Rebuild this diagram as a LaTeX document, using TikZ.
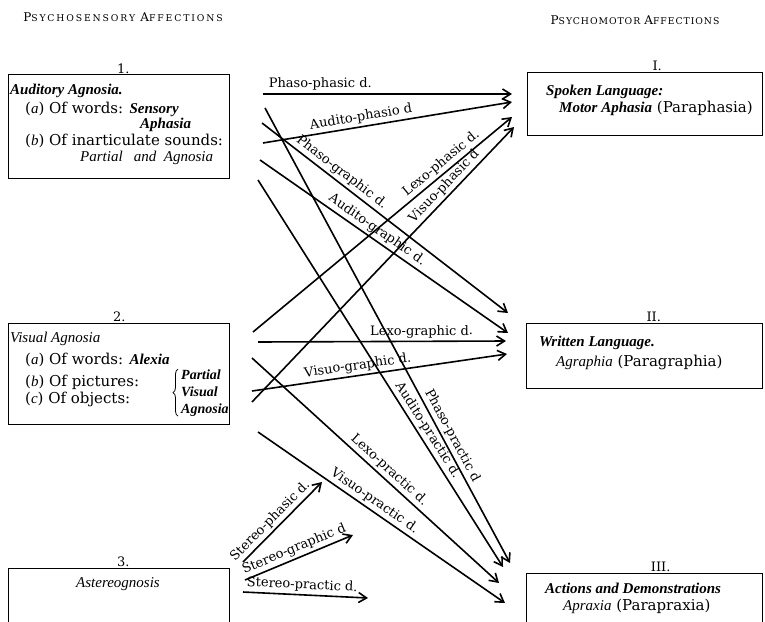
\documentclass[tikz,border=0pt]{standalone}
\usepackage{fontspec}
\setmainfont{DejaVu Serif}
\newfontfamily\timesfam{Liberation Serif}
\newcommand{\ital}[1]{{\timesfam\itshape #1}}
\newcommand{\bital}[1]{{\timesfam\bfseries\itshape #1}}
\newcommand{\hdcap}[2]{{\fontsize{12}{14}\selectfont #1}{\fontsize{9.3}{11}\selectfont #2}}
\usetikzlibrary{positioning,arrows.meta,decorations.pathreplacing}

\begin{document}
\begin{tikzpicture}[x=1pt,y=-1pt,
	box/.style = {draw, line width=1.4pt, anchor=north west, inner sep=0pt},
	txt/.style = {anchor=base west, inner sep=0pt, font=\fontsize{15}{17}\selectfont},
	num/.style = {inner sep=1pt, font=\fontsize{13}{15}\selectfont},
	lbl/.style = {inner sep=2.5pt, font=\fontsize{13}{15}\selectfont},
	conn/.style = {line width=1.6pt, -{Straight Barb[length=8pt,width=10pt]}},
	head/.style = {anchor=base, inner sep=0pt}]
			\useasboundingbox (0,0) rectangle (765,621);
			\clip (0,0) rectangle (765,621);

			\node[head] (sens) at (123,21) {\addfontfeature{LetterSpace=20}\hdcap{P}{SYCHOSENSORY} \hdcap{A}{FFECTIONS}};
			\node[head] (mot) at (635,24) {\addfontfeature{LetterSpace=10}\hdcap{P}{SYCHOMOTOR} \hdcap{A}{FFECTIONS}};

			\node[box, minimum width=221pt, minimum height=104pt] (aud) at (8,74) {};
			\node[box, minimum width=221pt, minimum height=101pt] (vis) at (8,323) {};
			\node[box, minimum width=221pt, minimum height=80pt] (ast) at (8,568) {};
			\node[box, minimum width=235pt, minimum height=63pt] (spk) at (527,72) {};
			\node[box, minimum width=236pt, minimum height=65pt] (wrt) at (526,323) {};
			\node[box, minimum width=236pt, minimum height=80pt] (act) at (526,573) {};

			\node[num, above=-1pt of aud, xshift=4pt] (n1) {1.};
			\node[num, above=0pt of vis] (n2) {2.};
			\node[num, above=0pt of ast, xshift=4pt] (n3) {3.};
			\node[num, above=0pt of spk, xshift=12pt] (r1) {I.};
			\node[num, above=0pt of wrt, xshift=9pt] (r2) {II.};
			\node[num, above=0pt of act, xshift=16pt] (r3) {III.};

			\node[txt] (aud-t) at (10,94) {\bital{Auditory Agnosia.}};
			\node[txt] (aud-a) at (25,113) {(\ital{a}) Of words: \bital{Sensory}};
			\node[txt] (aud-a2) at (140,128) {\bital{Aphasia}};
			\node[txt] (aud-b) at (25,145) {(\ital{b}) Of inarticulate sounds:};
			\node[txt] (aud-b2) at (80,161) {\ital{Partial\ \ \ and\ \ Agnosia}};

			\node[txt] (vis-t) at (10,342) {\ital{Visual Agnosia}};
			\node[txt] (vis-a) at (25,364) {(\ital{a}) Of words: \bital{Alexia}};
			\node[txt] (vis-b) at (25,386) {(\ital{b}) Of pictures:};
			\node[txt] (vis-c) at (25,403) {(\ital{c}) Of objects:};
			\node[txt, font=\fontsize{14}{16}\selectfont] (vis-p) at (181,379) {\bital{Partial}};
			\node[txt, font=\fontsize{14}{16}\selectfont] (vis-v) at (181,396) {\bital{Visual}};
			\node[txt, font=\fontsize{14}{16}\selectfont] (vis-g) at (181,413) {\bital{Agnosia}};
			\draw[line width=.8pt, decorate, decoration={brace, amplitude=5pt}]
				([xshift=-3pt]vis-g.south west) -- ([xshift=-3pt]vis-p.north west);

			\node[txt, anchor=base] (ast-t) at (118,587) {\ital{Astereognosis}};

			\node[txt] (spk-t) at (546,95) {\bital{Spoken Language:}};
			\node[txt] (spk-m) at (559,112) {\bital{Motor Aphasia} (Paraphasia)};
			\node[txt] (wrt-t) at (539,346) {\bital{Written Language.}};
			\node[txt] (wrt-a) at (556,366) {\ital{Agraphia} (Paragraphia)};
			\node[txt] (act-t) at (545,593) {\bital{Actions and Demonstrations}};
			\node[txt] (act-a) at (563,610) {\ital{Apraxia} (Parapraxia)};

			\coordinate (pp-s) at (263,94);  \coordinate (pp-e) at (512,94);
			\coordinate (ap-s) at (263,143); \coordinate (ap-e) at (512,102);
			\coordinate (lp-s) at (253,332); \coordinate (lp-e) at (512,117);
			\coordinate (vp-s) at (252,402); \coordinate (vp-e) at (514,127);
			\coordinate (pg-s) at (262,123); \coordinate (pg-e) at (508,313);
			\coordinate (ag-s) at (260,160); \coordinate (ag-e) at (508,333);
			\coordinate (lg-s) at (258,342); \coordinate (lg-e) at (506,341);
			\coordinate (vg-s) at (252,391); \coordinate (vg-e) at (507,354);
			\coordinate (px-s) at (265,108); \coordinate (px-e) at (510,563);
			\coordinate (ax-s) at (258,180); \coordinate (ax-e) at (503,567);
			\coordinate (lx-s) at (252,358); \coordinate (lx-e) at (499,583);
			\coordinate (vx-s) at (258,432); \coordinate (vx-e) at (505,603);
			\coordinate (sp-s) at (243,562); \coordinate (sp-e) at (322,482);
			\coordinate (sg-s) at (245,580); \coordinate (sg-e) at (353,535);
			\coordinate (sx-s) at (243,592); \coordinate (sx-e) at (368,598);

			\draw[conn] (pp-s) -- node[lbl, above, sloped, pos=.23] (pp-l) {Phaso-phasic d.} (pp-e);
			\draw[conn] (ap-s) -- node[lbl, above, sloped, pos=.40] (ap-l) {Audito-phasio d} (ap-e);
			\draw[conn] (lp-s) -- node[lbl, above, sloped, pos=.75] (lp-l) {Lexo-phasic d.} (lp-e);
			\draw[conn] (vp-s) -- node[lbl, above, sloped, pos=.76] (vp-l) {Visuo-phasic d} (vp-e);
			\draw[conn] (pg-s) -- node[lbl, above, sloped, pos=.30] (pg-l) {Phaso-graphic d.} (pg-e);
			\draw[conn] (ag-s) -- node[lbl, above, sloped, pos=.45] (ag-l) {Audito-graphic d.} (ag-e);
			\draw[conn] (lg-s) -- node[lbl, above, sloped, pos=.66] (lg-l) {Lexo-graphic d.} (lg-e);
			\draw[conn] (vg-s) -- node[lbl, above, sloped, pos=.42] (vg-l) {Visuo-graphic d.} (vg-e);
			\draw[conn] (px-s) -- node[lbl, above, sloped, pos=.73] (px-l) {Phaso-practic d} (px-e);
			\draw[conn] (ax-s) -- node[lbl, above, sloped, pos=.66] (ax-l) {Audito-practic d.} (ax-e);
			\draw[conn] (lx-s) -- node[lbl, above, sloped, pos=.53] (lx-l) {Lexo-practic d.} (lx-e);
			\draw[conn] (vx-s) -- node[lbl, above, sloped, pos=.45] (vx-l) {Visuo-practic d.} (vx-e);
			\draw[conn] (sp-s) -- node[lbl, above, sloped, pos=.43] (sp-l) {Stereo-phasic d.} (sp-e);
			\draw[conn] (sg-s) -- node[lbl, above, sloped, pos=.49] (sg-l) {Stereo-graphic d} (sg-e);
			\draw[conn] (sx-s) -- node[lbl, above, sloped, pos=.47] (sx-l) {Stereo-practic d.} (sx-e);
		\end{tikzpicture}
\end{document}
